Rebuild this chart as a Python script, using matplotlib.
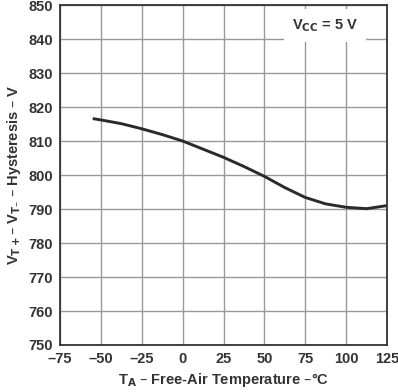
"""
Hysteresis vs free-air temperature
"""

import matplotlib
matplotlib.use("Agg")
import matplotlib.pyplot as plt


# ==========================================================
# DATA
# ==========================================================

temps = [-55, -50, -37.5, -25, -12.5, 0, 12.5, 25, 37.5, 50,
         62.5, 75, 87.5, 100, 112.5, 125]
hyst_mv = [816.6, 816.2, 815.1, 813.6, 811.9, 810.0, 807.6, 805.2, 802.5, 799.6,
           796.3, 793.4, 791.5, 790.5, 790.1, 791.0]

x_ticks = [-75, -50, -25, 0, 25, 50, 75, 100, 125]
y_ticks = list(range(750, 851, 10))


# ==========================================================
# PLOT
# ==========================================================

plt.rcParams["font.family"] = ["Liberation Sans", "DejaVu Sans"]
plt.rcParams["font.weight"] = "bold"

fig = plt.figure(figsize=(3.98, 3.92), dpi=100)
ax = fig.add_axes([0.1508, 0.1199, 0.8216, 0.8673])

ax.plot(temps, hyst_mv, color="#2a2a2a", lw=2.1,
        solid_joinstyle="round", solid_capstyle="butt")

ax.set_xlim(-75, 125)
ax.set_ylim(750, 850)
ax.set_xticks(x_ticks)
ax.set_yticks(y_ticks)
ax.set_xticklabels([str(t).replace("-", "\u2013") for t in x_ticks])
ax.grid(True, color="#999999", lw=1.0)
ax.set_axisbelow(True)

ax.tick_params(length=0, labelsize=10.5, colors="#333333", pad=5)
for lab in ax.get_xticklabels() + ax.get_yticklabels():
    lab.set_fontweight("bold")
for side in ["top", "right", "bottom", "left"]:
    ax.spines[side].set_color("#333333")
    ax.spines[side].set_linewidth(1.3)

ax.set_xlabel("T$_\\mathbf{A}$ \u2013 Free-Air Temperature \u2013\u00b0C",
              fontsize=10.5, fontweight="bold", color="#333333", labelpad=4)
ax.set_ylabel("V$_\\mathbf{T+}$\u2013 V$_\\mathbf{T\u2013}$ \u2013 Hysteresis \u2013 V",
              fontsize=10.5, fontweight="bold", color="#333333", labelpad=4)

ax.text(87, 844, "V$_\\mathbf{CC}$ = 5 V", fontsize=10.5, fontweight="bold",
        color="#333333", ha="center", va="center",
        bbox=dict(facecolor="white", edgecolor="none", pad=6))

fig.savefig("out.png", dpi=100)
